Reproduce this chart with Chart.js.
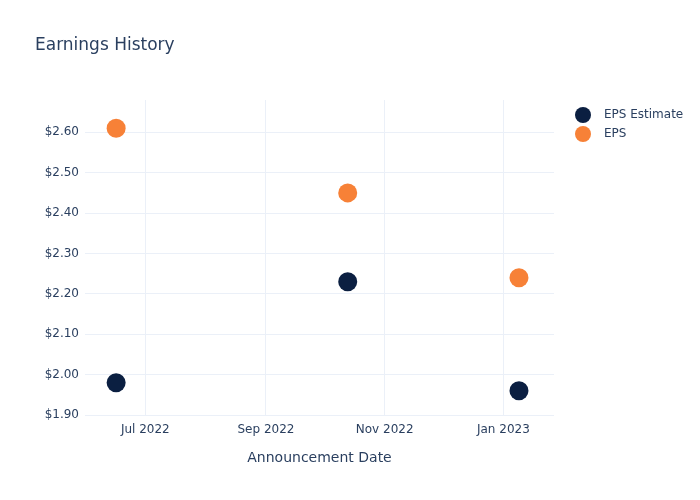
<!DOCTYPE html>
<html>
<head>
<meta charset="utf-8">
<script src="https://cdn.jsdelivr.net/npm/chart.js@4"></script>
<style>
  body { margin: 0; background: #fff; font-family: "DejaVu Sans", sans-serif; }
  #wrap { position: relative; width: 700px; height: 500px; }
  #title { position: absolute; left: 35px; top: 34px; font-size: 17px; color: #2a3f5f; }
  .leg { position: absolute; left: 575px; font-size: 12px; color: #2a3f5f; line-height: 16px; }
  .leg span { display: inline-block; width: 16px; height: 16px; border-radius: 50%; vertical-align: middle; margin-right: 13px; }
</style>
</head>
<body>
<div id="wrap">
  <canvas id="chart" width="700" height="500"></canvas>
  <div id="title">Earnings History</div>
  <div class="leg" style="top:106px"><span style="background:#0b1f41"></span>EPS Estimate</div>
  <div class="leg" style="top:125px"><span style="background:#f78137"></span>EPS</div>
</div>
<script>
const dates = ["2022-06-16", "2022-10-13", "2023-01-09"];
const epsEstimate = [1.98, 2.23, 1.96];
const eps = [2.61, 2.45, 2.24];

const xTickDates = ["2022-07-01", "2022-09-01", "2022-11-01", "2023-01-01"];
const xTickLabels = ["Jul 2022", "Sep 2022", "Nov 2022", "Jan 2023"];
const yTickValues = [1.9, 2.0, 2.1, 2.2, 2.3, 2.4, 2.5, 2.6];

const xMin = Date.parse("2022-05-31");
const xMax = Date.parse("2023-01-27");

function points(values) {
    return dates.map((d, i) => ({ x: Date.parse(d), y: values[i] }));
}

const gridColor = "#ebf0f8";
const textColor = "#2a3f5f";

new Chart(document.getElementById("chart"), {
    type: "scatter",
    data: {
        datasets: [
            { label: "EPS Estimate", data: points(epsEstimate), backgroundColor: "#0b1f41", borderWidth: 0, pointRadius: 9.5, pointHoverRadius: 9.5 },
            { label: "EPS", data: points(eps), backgroundColor: "#f78137", borderWidth: 0, pointRadius: 9.5, pointHoverRadius: 9.5 }
        ]
    },
    options: {
        responsive: false,
        animation: false,
        layout: { padding: { top: 100, right: 146, left: 0, bottom: 0 } },
        plugins: { legend: { display: false }, tooltip: { enabled: false } },
        scales: {
            x: {
                type: "linear",
                min: xMin,
                max: xMax,
                afterBuildTicks: s => { s.ticks = xTickDates.map(d => ({ value: Date.parse(d) })); },
                afterFit: s => { s.height = 85; },
                border: { display: false },
                grid: { color: gridColor, drawTicks: false },
                ticks: {
                    color: textColor,
                    font: { family: "DejaVu Sans", size: 12 },
                    padding: 8,
                    maxRotation: 0,
                    callback: (v, i) => xTickLabels[i]
                },
                title: {
                    display: true,
                    text: "Announcement Date",
                    color: textColor,
                    font: { family: "DejaVu Sans", size: 14 },
                    padding: { top: 12, bottom: 33 }
                }
            },
            y: {
                min: 1.9,
                max: 2.68,
                afterBuildTicks: s => { s.ticks = yTickValues.map(v => ({ value: v })); },
                afterFit: s => { s.width = 85; },
                border: { display: false },
                grid: { color: gridColor, drawTicks: false },
                ticks: {
                    color: textColor,
                    font: { family: "DejaVu Sans", size: 12 },
                    padding: 6,
                    callback: v => "$" + v.toFixed(2)
                }
            }
        }
    }
});
</script>
</body>
</html>
